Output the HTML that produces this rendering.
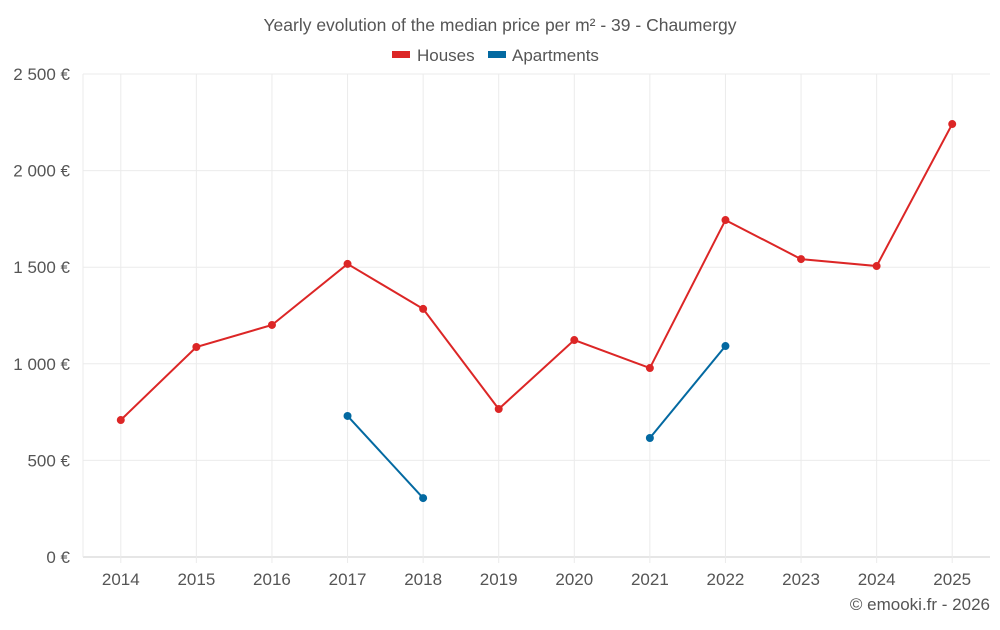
<!DOCTYPE html>
<html><head><meta charset="utf-8"><style>
body{margin:0;background:#fff;font-family:"Liberation Sans",sans-serif;}
svg text{font-family:"Liberation Sans",sans-serif;}
</style></head><body>
<svg id="chart" width="1000" height="625" xmlns="http://www.w3.org/2000/svg">
<text x="500" y="31" text-anchor="middle" font-size="17.5" fill="#555">Yearly evolution of the median price per m² - 39 - Chaumergy</text>
<g><rect x="392" y="51" width="18" height="7" fill="#dc2626"/><text x="417" y="61" font-size="17" fill="#555">Houses</text></g>
<g><rect x="488" y="51" width="18" height="7" fill="#0369a1"/><text x="512" y="61" font-size="17" fill="#555">Apartments</text></g>
<g id="grid"></g><g id="axes"></g><g id="series"></g>
<text x="990" y="610" text-anchor="end" font-size="17" fill="#555">© emooki.fr - 2026</text>
</svg>
<script>
const years=[2014,2015,2016,2017,2018,2019,2020,2021,2022,2023,2024,2025];
const houses=[709,1087,1201,1517,1284,766,1123,978,1744,1542,1506,2241];
const apartments=[null,null,null,730,305,null,null,616,1092,null,null,null];
const yTicks=[0,500,1000,1500,2000,2500];
const yTickLabels=["0 €","500 €","1 000 €","1 500 €","2 000 €","2 500 €"];
const NS="http://www.w3.org/2000/svg";
const L=83,R=990,T=74,B=557,ymax=2500;
const step=(R-L)/years.length;
const xs=i=>L+step*(i+0.5);
const ys=v=>B-(v/ymax)*(B-T);
function mk(tag,attrs,parent){const e=document.createElementNS(NS,tag);for(const k in attrs)e.setAttribute(k,attrs[k]);parent.appendChild(e);return e;}
const grid=document.getElementById('grid'),axes=document.getElementById('axes'),ser=document.getElementById('series');
yTicks.forEach((t,i)=>{
 const l=mk('line',{x1:L,x2:R,y1:ys(t),y2:ys(t),stroke:i==0?'#ccc':'#ebebeb'},grid);
 
 
 const tx=mk('text',{x:70,y:ys(t)+6,'text-anchor':'end','font-size':17,fill:'#555'},axes);
 tx.textContent=yTickLabels[i];
 
 
});
mk('line',{x1:L,x2:L,y1:T,y2:B,stroke:'#ebebeb'},grid);
years.forEach((y,i)=>{
 const l=mk('line',{x1:xs(i),x2:xs(i),y1:T,y2:B+6,stroke:'#ebebeb'},grid);
 
 
 const tx=mk('text',{x:xs(i),y:585,'text-anchor':'middle','font-size':17,fill:'#555'},axes);
 tx.textContent=y;
 
 
});
function draw(data,color,name){
 let seg=[];
 const flush=()=>{if(seg.length>1){const p=mk('polyline',{points:seg.join(' '),fill:'none',stroke:color,'stroke-width':2},ser);
  
  }seg=[];};
 data.forEach((v,i)=>{if(v==null){flush();return;}seg.push(xs(i)+','+ys(v));});flush();
 data.forEach((v,i)=>{if(v==null)return;const c=mk('circle',{cx:xs(i),cy:ys(v),r:4,fill:color},ser);
  
  });
}
draw(houses,'#dc2626','houses');
draw(apartments,'#0369a1','apartments');
</script>
</body></html>
